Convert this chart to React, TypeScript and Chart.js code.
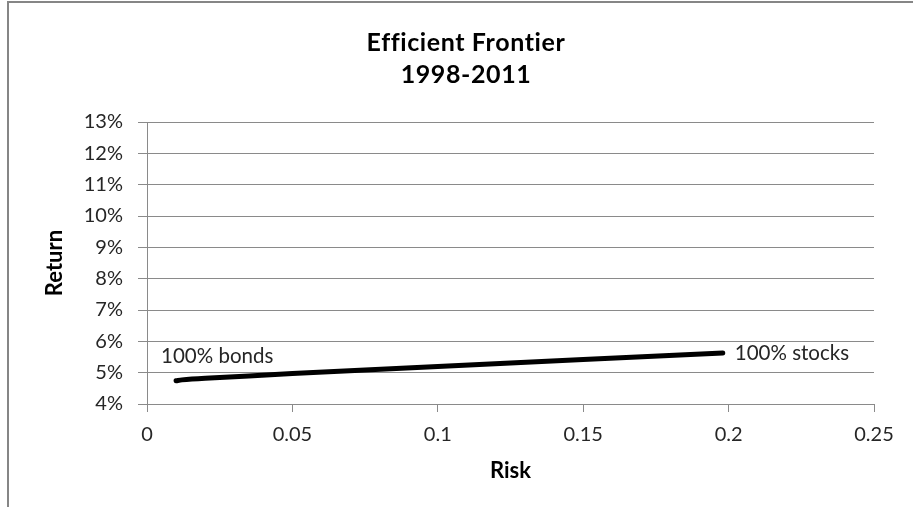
import React, { useEffect, useRef } from "react";
import { Chart, registerables } from "chart.js";

Chart.register(...registerables);

const titleLines = ["Efficient Frontier", "1998-2011"];
const risk = [0.01, 0.012, 0.02, 0.05, 0.1, 0.15, 0.198];
const ret = [4.74, 4.77, 4.82, 4.97, 5.2, 5.42, 5.63];
const startLabel = "100% bonds";
const endLabel = "100% stocks";
const xTitle = "Risk";
const yTitle = "Return";

const FONT = "Lato, 'Open Sans', sans-serif";
const GRID = "#8a8a8a";

const decorPlugin = {
  id: "decor",
  beforeDraw(chart: any) {
    const ctx = chart.ctx;
    ctx.save();
    ctx.fillStyle = "#ffffff";
    ctx.fillRect(0, 0, chart.width, chart.height);
    ctx.strokeStyle = "#868686";
    ctx.lineWidth = 2;
    ctx.beginPath();
    ctx.moveTo(8, chart.height);
    ctx.lineTo(8, 2);
    ctx.lineTo(chart.width, 2);
    ctx.stroke();
    ctx.restore();
  },
  afterDraw(chart: any) {
    const ctx = chart.ctx;
    ctx.save();
    ctx.fillStyle = "#000000";
    ctx.font = `bold 25px ${FONT}`;
    try {
      (ctx as any).letterSpacing = "0.6px";
    } catch (e) {}
    ctx.textAlign = "center";
    ctx.textBaseline = "middle";
    ctx.fillText(titleLines[0], 466, 43);
    ctx.fillText(titleLines[1], 466, 75);
    try {
      (ctx as any).letterSpacing = "0px";
    } catch (e) {}

    const xs = chart.scales.x;
    const ys = chart.scales.y;
    ctx.font = `20.5px ${FONT}`;
    ctx.fillStyle = "#262626";
    ctx.textAlign = "left";
    const x0 = xs.getPixelForValue(risk[0]);
    const y0 = ys.getPixelForValue(ret[0]);
    ctx.fillText(startLabel, x0 - 15, y0 - 24);
    const n = risk.length - 1;
    const x1 = xs.getPixelForValue(risk[n]);
    const y1 = ys.getPixelForValue(ret[n]);
    ctx.fillText(endLabel, x1 + 12, y1);
    ctx.restore();
  },
};

export default function App() {
  const ref = useRef<HTMLCanvasElement>(null);
  useEffect(() => {
    if (!ref.current) return;
    const chart = new Chart(ref.current, {
      type: "scatter",
      data: {
        datasets: [
          {
            data: risk.map((r, i) => ({ x: r, y: ret[i] })),
            showLine: true,
            borderColor: "#000000",
            borderWidth: 5,
            borderCapStyle: "round",
            pointRadius: 0,
            tension: 0.3,
            fill: false,
          } as any,
        ],
      },
      options: {
        animation: false,
        responsive: false,
        layout: { padding: { top: 122, right: 39, left: 0, bottom: 0 } },
        plugins: { legend: { display: false }, tooltip: { enabled: false } },
        scales: {
          x: {
            type: "linear",
            min: 0,
            max: 0.25,
            ticks: {
              stepSize: 0.05,
              color: "#262626",
              font: { family: FONT, size: 20 },
              padding: 11,
              maxRotation: 0,
              callback: (v: any) => String(+Number(v).toFixed(2)),
            },
            grid: { drawOnChartArea: false, drawTicks: true, tickLength: 8, color: GRID },
            border: { display: true, color: GRID },
            title: {
              display: true,
              text: xTitle,
              color: "#000",
              font: { family: FONT, size: 22, weight: "bold" },
              padding: { top: 0, bottom: 23 },
            },
            afterFit: (s: any) => {
              s.height = 103;
            },
          },
          y: {
            type: "linear",
            min: 4,
            max: 13,
            ticks: {
              stepSize: 1,
              color: "#262626",
              font: { family: FONT, size: 20 },
              padding: 15,
              callback: (v: any) => v + "%",
            },
            grid: { drawOnChartArea: true, drawTicks: true, tickLength: 9, color: GRID },
            border: { display: true, color: GRID },
            title: {
              display: true,
              text: yTitle,
              color: "#000",
              font: { family: FONT, size: 22, weight: "bold" },
              padding: { top: 42, bottom: 0 },
            },
            afterFit: (s: any) => {
              s.width = 147;
            },
          },
        },
      } as any,
      plugins: [decorPlugin],
    });
    return () => chart.destroy();
  }, []);
  return (
    <div style={{ position: "absolute", left: 0, top: 0, width: 913, height: 507 }}>
      <canvas ref={ref} width={913} height={507} />
    </div>
  );
}
